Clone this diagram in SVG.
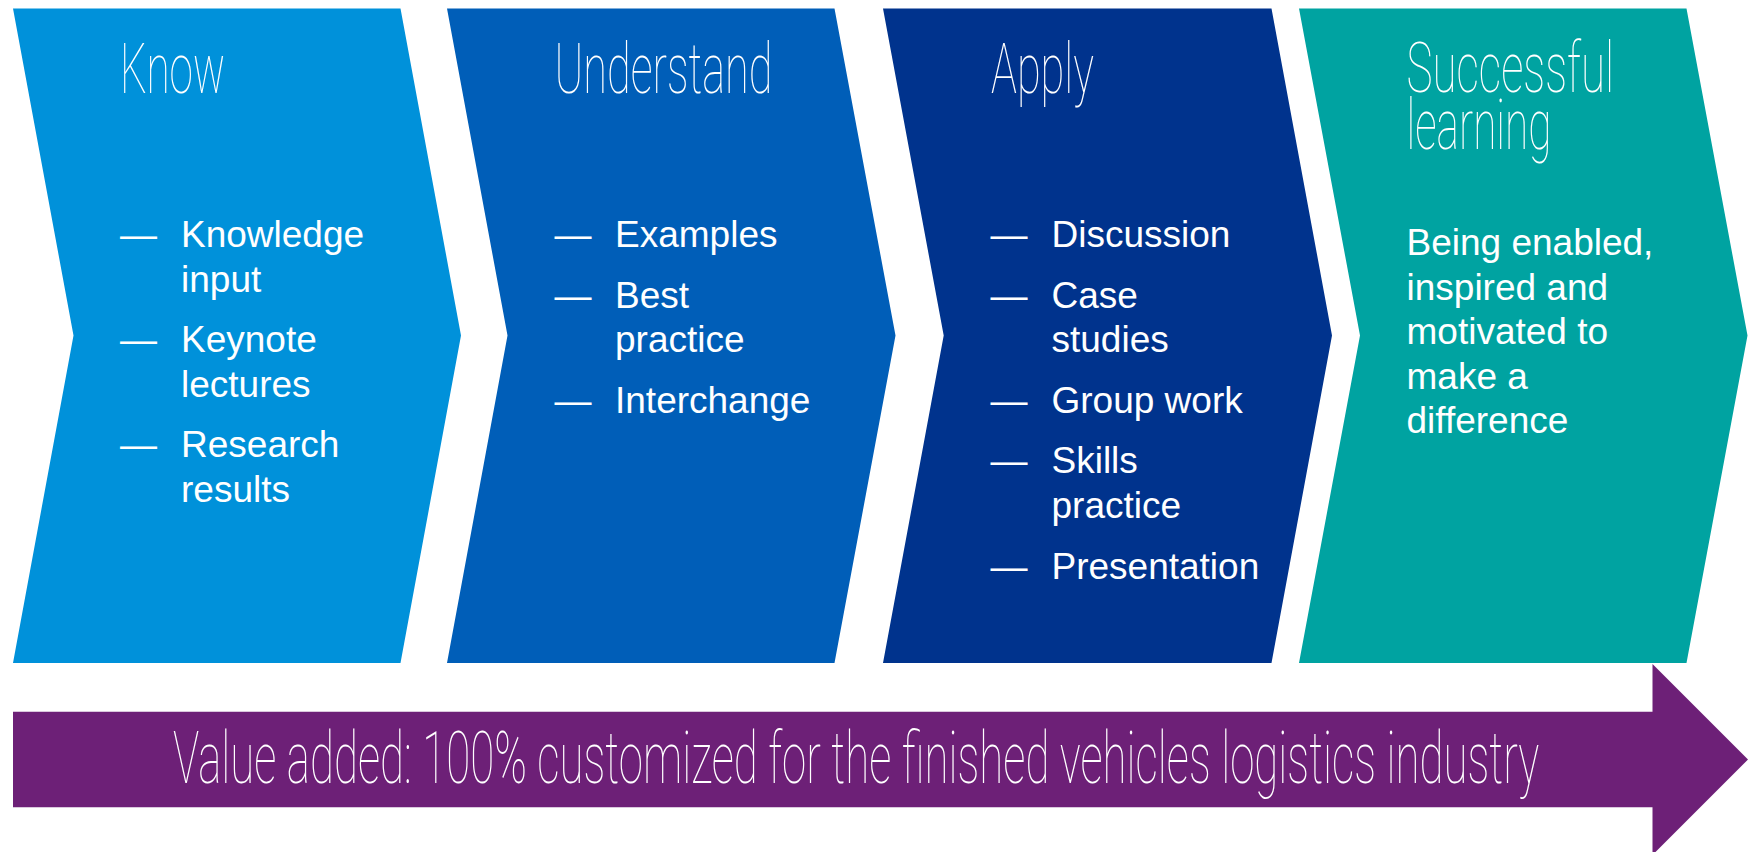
<svg xmlns="http://www.w3.org/2000/svg" width="1749" height="852" viewBox="0 0 1749 852">
  <style>
    .title { font-family: Roboto, "Liberation Sans", sans-serif; font-weight: 100; font-size: 70px; fill: #ffffff; }
    .body { font-family: "Liberation Sans", Arial, sans-serif; font-size: 37px; fill: #ffffff; }
    .c1 { fill: #0091DA; }
    .c2 { fill: #005EB8; }
    .c3 { fill: #00338D; }
    .c4 { fill: #00A3A1; }
    .purple { fill: #6D2077; }
  </style>
  <rect width="1749" height="852" fill="#ffffff"/>

  <g id="node-know">
    <polygon class="c1" points="13,8.5 400.5,8.5 461,335.5 400.5,663 13,663 73.5,335.5"/>
    <text class="title" x="120" y="92.5" textLength="105" lengthAdjust="spacingAndGlyphs">Know</text>
    <text class="body">
      <tspan x="120" y="247">—</tspan><tspan x="181" y="247">Knowledge</tspan>
      <tspan x="181" y="291.7">input</tspan>
      <tspan x="120" y="352">—</tspan><tspan x="181" y="352">Keynote</tspan>
      <tspan x="181" y="396.5">lectures</tspan>
      <tspan x="120" y="457">—</tspan><tspan x="181" y="457">Research</tspan>
      <tspan x="181" y="501.5">results</tspan>
    </text>
  </g>

  <g id="node-understand">
    <polygon class="c2" points="447,8.5 834.5,8.5 895.5,335.5 834.5,663 447,663 507.5,335.5"/>
    <text class="title" x="554.5" y="92.5" textLength="218" lengthAdjust="spacingAndGlyphs">Understand</text>
    <text class="body">
      <tspan x="554.5" y="247">—</tspan><tspan x="615" y="247">Examples</tspan>
      <tspan x="554.5" y="307.5">—</tspan><tspan x="615" y="307.5">Best</tspan>
      <tspan x="615" y="352">practice</tspan>
      <tspan x="554.5" y="412.5">—</tspan><tspan x="615" y="412.5">Interchange</tspan>
    </text>
  </g>

  <g id="node-apply">
    <polygon class="c3" points="883,8.5 1271.5,8.5 1332,335.5 1271.5,663 883,663 943.7,335.5"/>
    <text class="title" x="991" y="92.5" textLength="103" lengthAdjust="spacingAndGlyphs">Apply</text>
    <text class="body">
      <tspan x="990.5" y="247">—</tspan><tspan x="1051.5" y="247">Discussion</tspan>
      <tspan x="990.5" y="307.5">—</tspan><tspan x="1051.5" y="307.5">Case</tspan>
      <tspan x="1051.5" y="352">studies</tspan>
      <tspan x="990.5" y="412.5">—</tspan><tspan x="1051.5" y="412.5">Group work</tspan>
      <tspan x="990.5" y="473">—</tspan><tspan x="1051.5" y="473">Skills</tspan>
      <tspan x="1051.5" y="517.5">practice</tspan>
      <tspan x="990.5" y="579">—</tspan><tspan x="1051.5" y="579">Presentation</tspan>
    </text>
  </g>

  <g id="node-successful-learning">
    <polygon class="c4" points="1299,8.5 1686.5,8.5 1747.5,335.5 1686.5,663 1299,663 1360,335.5"/>
    <text class="title" x="1406.5" y="92" textLength="207.5" lengthAdjust="spacingAndGlyphs">Successful</text>
    <text class="title" x="1406.5" y="149" textLength="145" lengthAdjust="spacingAndGlyphs">learning</text>
    <text class="body">
      <tspan x="1406.5" y="255">Being enabled,</tspan>
      <tspan x="1406.5" y="299.5">inspired and</tspan>
      <tspan x="1406.5" y="344">motivated to</tspan>
      <tspan x="1406.5" y="388.5">make a</tspan>
      <tspan x="1406.5" y="433">difference</tspan>
    </text>
  </g>

  <g id="node-value-added">
    <polygon class="purple" points="13,711.7 1652.5,711.7 1652.5,664 1748,759.5 1652.5,855 1652.5,807.3 13,807.3"/>
    <text class="title" style="font-size:72px" transform="translate(173,782.5) scale(0.68,1)" x="0" y="0" textLength="2009" lengthAdjust="spacingAndGlyphs">Value added: 100% customized for the finished vehicles logistics industry</text>
  </g>

  <g id="connectors"/>
</svg>
